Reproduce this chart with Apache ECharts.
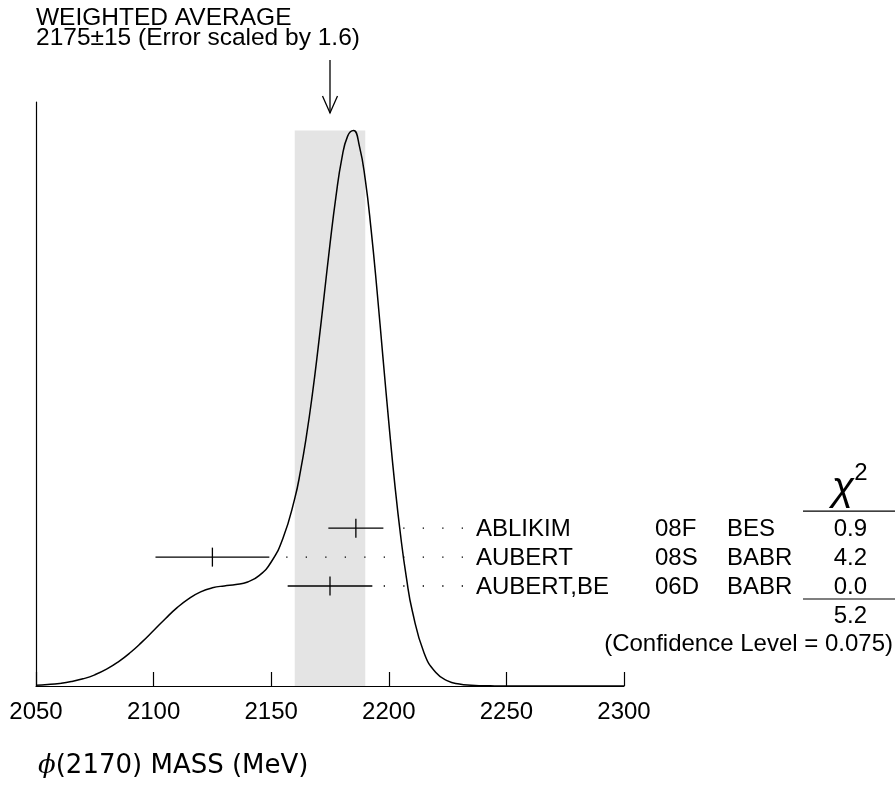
<!DOCTYPE html>
<html><head><meta charset="utf-8">
<script src="https://cdn.jsdelivr.net/npm/echarts@6/dist/echarts.min.js"></script>
<style>html,body{margin:0;padding:0;background:#fff}#chart{width:895px;height:786px}</style>
</head><body><div id="chart"></div>
<script>
// ---- data ----
const massGrid = [2050,2055,2060,2065,2070,2075,2080,2085,2090,2095,2100,2105,2110,2115,2120,2125,2130,2135,2140,2145,2150,2155,2160,2162.5,2165,2167.5,2170,2172.5,2175,2177.5,2180,2182.5,2185,2187.5,2190,2192.5,2195,2197.5,2200,2202.5,2205,2207.5,2210,2215,2220,2225,2230,2235,2240,2245,2250,2300];
const ideogramDensity = [0.14,0.26,0.46,0.79,1.29,2.01,3.02,4.34,5.97,7.89,9.98,12.10,14.08,15.73,16.93,17.65,18.0,18.23,18.71,19.9,22.29,26.55,33.7,38.76,45.0,52.43,60.98,70.14,79.45,87.9,94.77,98.86,99.86,97.07,91.04,81.96,71.07,59.12,47.39,36.48,27.11,19.42,13.48,5.94,2.41,0.92,0.35,0.13,0.05,0.02,0,0];
const measurementNames = ['ABLIKIM','AUBERT','AUBERT,BE'];
const measurementRefs = ['08F','08S','06D'];
const measurementExperiments = ['BES','BABR','BABR'];
const measurementValues = [2186,2125,2175];
const measurementErrors = [11.7,24.2,18.0];
const chi2Values = ['0.9','4.2','0.0'];
const chi2Total = '5.2';
const confidenceLevel = '0.075';
const weightedAverage = 2175;
const weightedError = 15;
const errorScale = '1.6';
const xTicks = [2050,2100,2150,2200,2250,2300];

// ---- layout / style ----
const FONT = '"Liberation Sans", Arial, Helvetica, sans-serif';
const FS = 24;
const LEADER_END = 463, NAME_X = 476, REF_X = 655, EXP_X = 727, CHI_R = 867;
const ROWS = measurementNames.map((_, i) => measurementNames.length - i); // 3,2,1

const curve = massGrid.map((m, i) => [m, ideogramDensity[i]]);
const peak = Math.max.apply(null, ideogramDensity);
const meas = measurementValues.map((v, i) => [v, measurementErrors[i], ROWS[i]]);

const chart = echarts.init(document.getElementById('chart'), null, {renderer: 'canvas'});

function txt(x, y, s, align, font) {
  return {type: 'text', x: x, y: y, style: {text: s, font: font || (FS + 'px ' + FONT), fill: '#000',
    textAlign: align || 'left', textVerticalAlign: 'middle', align: align || 'left', verticalAlign: 'middle'}};
}

const option = {
  animation: false,
  backgroundColor: '#fff',
  grid: {left: 36, top: 102, width: 588, height: 584},
  xAxis: {
    type: 'value', min: xTicks[0], max: xTicks[xTicks.length - 1], interval: 50,
    axisLine: {show: true, onZero: false, lineStyle: {color: '#000', width: 1.2}},
    axisTick: {show: true, inside: true, length: 14, lineStyle: {color: '#000', width: 1.2}},
    axisLabel: {show: true, color: '#000', fontSize: FS, fontFamily: FONT, margin: 14,
      formatter: v => String(v)},
    splitLine: {show: false}
  },
  yAxis: [
    {type: 'value', min: 0, max: 105,
     axisLine: {show: true, onZero: false, lineStyle: {color: '#000', width: 1.2}},
     axisTick: {show: false}, axisLabel: {show: false}, splitLine: {show: false}},
    {type: 'value', min: -2.46, max: 17.75, show: false,
     axisLine: {show: false}, axisTick: {show: false}, axisLabel: {show: false}, splitLine: {show: false}}
  ],
  series: [
    {
      type: 'line', z: 1, data: [[xTicks[0], 0]], showSymbol: false, silent: true,
      lineStyle: {opacity: 0},
      markArea: {silent: true, itemStyle: {color: '#e4e4e4'},
        data: [[{xAxis: weightedAverage - weightedError, yAxis: 0}, {xAxis: weightedAverage + weightedError, yAxis: peak}]]}
    },
    {
      type: 'line', z: 3, data: curve, showSymbol: false, smooth: 0.5,
      lineStyle: {color: '#000', width: 1.5}, silent: true
    },
    {
      type: 'custom', z: 4, yAxisIndex: 1, data: meas, encode: {x: 0, y: 2}, silent: true,
      renderItem: function (params, api) {
        const i = params.dataIndex;
        const v = api.value(0), e = api.value(1), row = api.value(2);
        const c = api.coord([v, row]);
        const lo = api.coord([v - e, row])[0], hi = api.coord([v + e, row])[0];
        const y = c[1];
        const st = {stroke: '#000', lineWidth: 1.3};
        return {type: 'group', children: [
          {type: 'line', shape: {x1: lo, y1: y, x2: hi, y2: y}, style: st},
          {type: 'line', shape: {x1: c[0], y1: y - 9.5, x2: c[0], y2: y + 9.5}, style: st},
          {type: 'line', shape: {x1: LEADER_END, y1: y, x2: hi + 6, y2: y},
           style: {stroke: '#000', lineWidth: 1.3, lineDash: [1.3, 18.2]}},
          txt(NAME_X, y + 1, measurementNames[i]),
          txt(REF_X, y + 1, measurementRefs[i]),
          txt(EXP_X, y + 1, measurementExperiments[i]),
          txt(CHI_R, y + 1, chi2Values[i], 'right')
        ]};
      }
    }
  ]
};
chart.setOption(option);

const ax = chart.convertToPixel({xAxisIndex: 0}, weightedAverage);
const rowY = r => chart.convertToPixel({yAxisIndex: 1}, r);
const topRow = rowY(ROWS[0]);
const lastRow = rowY(ROWS[ROWS.length - 1]);
const tip = 113, shaftTop = 60;
chart.setOption({
  graphic: [
    txt(36, 18, 'WEIGHTED AVERAGE', 'left', '24.5px ' + FONT),
    txt(36, 38, weightedAverage + '\u00b1' + weightedError + ' (Error scaled by ' + errorScale + ')', 'left', '24.5px ' + FONT),
    {type: 'line', shape: {x1: ax, y1: shaftTop, x2: ax, y2: tip}, style: {stroke: '#000', lineWidth: 1.3}},
    {type: 'polyline', shape: {points: [[ax - 7.5, tip - 17], [ax, tip], [ax + 7.5, tip - 17]]}, style: {stroke: '#000', lineWidth: 1.3, fill: null}},
    // chi-square column header and rules
    txt(843, topRow - 40, '\u03c7', 'center', 'italic 41px "Liberation Sans", "DejaVu Sans", sans-serif'),
    txt(861, topRow - 55, '2', 'center'),
    {type: 'line', shape: {x1: 803, y1: topRow - 17, x2: 895, y2: topRow - 17}, style: {stroke: '#000', lineWidth: 1.2}},
    {type: 'line', shape: {x1: 803, y1: lastRow + 13, x2: 895, y2: lastRow + 13}, style: {stroke: '#000', lineWidth: 1.2}},
    txt(CHI_R, rowY(0) + 1, chi2Total, 'right'),
    txt(893, rowY(-1) + 1, '(Confidence Level = ' + confidenceLevel + ')', 'right'),
    // x axis title
    {type: 'text', x: 38, y: 766, style: {
      text: '{phi|\u03d5}{t|(2170) MASS (MeV)}', fill: '#000', align: 'left', verticalAlign: 'middle',
      textAlign: 'left', textVerticalAlign: 'middle',
      rich: {phi: {fontFamily: '"DejaVu Serif", serif', fontStyle: 'italic', fontSize: 26, fill: '#000', color: '#000'},
             t: {fontFamily: '"DejaVu Sans", sans-serif', fontSize: 26, fill: '#000', color: '#000'}}}}
  ]
});
</script>
</body></html>
